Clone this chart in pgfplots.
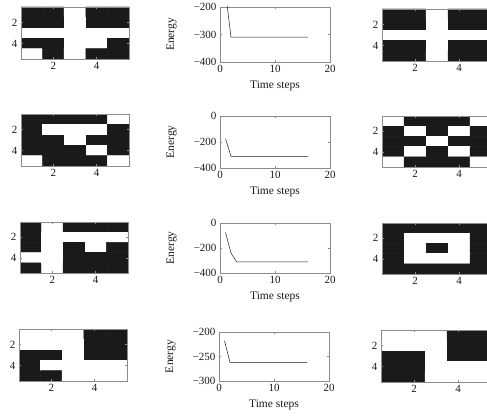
\documentclass[border=0pt]{standalone}
\usepackage{pgfplots}
\pgfplotsset{compat=1.18}
\usepackage{fontspec}
\setmainfont{Liberation Serif}

\definecolor{ink}{HTML}{1A1A1A}
\definecolor{frame}{HTML}{8C8C8C}

\pgfplotsset{
  common/.style={scale only axis, anchor=north west,
    tick align=inside, major tick length=2pt,
    axis line style={frame, line width=0.4pt}, tick style={frame, line width=0.4pt},
    ticklabel style={font=\fontsize{11}{12}\selectfont, text=ink},
    label style={font=\fontsize{11.5}{13}\selectfont, text=ink},
    /pgf/number format/assume math mode=true},
  bwmat/.style={common, width=108pt, height=52pt,
    xmin=0.5, xmax=5.5, ymin=0.5, ymax=5.5, y dir=reverse, enlargelimits=false,
    xtick={2,4}, ytick={2,4}, axis on top,
    colormap={bw}{color=(white) color=(ink)},
    point meta min=0, point meta max=1},
  energy/.style={common, width=110pt, xmin=0, xmax=20, xtick={0,10,20},
    xlabel={Time steps}, ylabel={Energy},
    xlabel style={yshift=-1pt},
    ylabel style={at={(axis description cs:-0.44,0.5)}, anchor=center}},
  eline/.style={ink, line width=0.5pt, mark=none},
  mat/.style={matrix plot*, mesh/cols=5, point meta=explicit}
}

\begin{document}
\begin{tikzpicture}
\useasboundingbox (0,0) rectangle (487pt,-417pt);
\clip (0,0) rectangle (487pt,-417pt);

% ---------- row 1 ----------
\begin{axis}[bwmat, at={(21pt,-7pt)}]
\addplot[mat] table[meta=c] {
x y c
1 1 1
2 1 1
3 1 0
4 1 1
5 1 1
1 2 1
2 2 1
3 2 0
4 2 1
5 2 1
1 3 0
2 3 0
3 3 0
4 3 0
5 3 0
1 4 1
2 4 1
3 4 0
4 4 0
5 4 1
1 5 0
2 5 1
3 5 0
4 5 1
5 5 1
};
\end{axis}
\begin{axis}[energy, at={(220pt,-7pt)}, height=55pt, ymin=-400, ymax=-200,
  ytick={-400,-300,-200}, yticklabels={−400,−300,−200}]
\addplot[eline] coordinates {(1,-145) (2,-310) (3,-310) (4,-310) (5,-310) (6,-310) (7,-310) (8,-310) (9,-310) (10,-310) (11,-310) (12,-310) (13,-310) (14,-310) (15,-310) (16,-310)};
\end{axis}
\begin{axis}[bwmat, at={(382pt,-9pt)}, width=110pt]
\addplot[mat] table[meta=c] {
x y c
1 1 1
2 1 1
3 1 0
4 1 1
5 1 1
1 2 1
2 2 1
3 2 0
4 2 1
5 2 1
1 3 0
2 3 0
3 3 0
4 3 0
5 3 0
1 4 1
2 4 1
3 4 0
4 4 1
5 4 1
1 5 1
2 5 1
3 5 0
4 5 1
5 5 1
};
\end{axis}

% ---------- row 2 ----------
\begin{axis}[bwmat, at={(21pt,-114pt)}]
\addplot[mat] table[meta=c] {
x y c
1 1 1
2 1 1
3 1 1
4 1 1
5 1 0
1 2 1
2 2 0
3 2 0
4 2 0
5 2 1
1 3 1
2 3 1
3 3 0
4 3 1
5 3 1
1 4 1
2 4 1
3 4 1
4 4 0
5 4 1
1 5 0
2 5 1
3 5 1
4 5 1
5 5 0
};
\end{axis}
\begin{axis}[energy, at={(220pt,-116pt)}, height=52pt, ymin=-400, ymax=0,
  ytick={-400,-200,0}, yticklabels={−400,−200,0}]
\addplot[eline] coordinates {(1,-175) (2,-310) (3,-310) (4,-310) (5,-310) (6,-310) (7,-310) (8,-310) (9,-310) (10,-310) (11,-310) (12,-310) (13,-310) (14,-310) (15,-310) (16,-310)};
\end{axis}
\begin{axis}[bwmat, at={(382pt,-116pt)}, width=110pt, height=51pt]
\addplot[mat] table[meta=c] {
x y c
1 1 0
2 1 1
3 1 1
4 1 1
5 1 0
1 2 1
2 2 0
3 2 1
4 2 0
5 2 1
1 3 1
2 3 1
3 3 0
4 3 1
5 3 1
1 4 1
2 4 0
3 4 1
4 4 0
5 4 1
1 5 0
2 5 1
3 5 1
4 5 1
5 5 0
};
\end{axis}

% ---------- row 3 ----------
\begin{axis}[bwmat, at={(20pt,-222pt)}, height=51pt]
\addplot[mat] table[meta=c] {
x y c
1 1 1
2 1 0
3 1 1
4 1 1
5 1 1
1 2 1
2 2 0
3 2 0
4 2 0
5 2 0
1 3 1
2 3 0
3 3 1
4 3 0
5 3 1
1 4 0
2 4 0
3 4 1
4 4 1
5 4 1
1 5 1
2 5 0
3 5 1
4 5 1
5 5 1
};
\end{axis}
\begin{axis}[energy, at={(220pt,-223pt)}, height=50pt, ymin=-400, ymax=0,
  ytick={-400,-200,0}, yticklabels={−400,−200,0}]
\addplot[eline] coordinates {(1,-75) (2,-240) (3,-310) (4,-310) (5,-310) (6,-310) (7,-310) (8,-310) (9,-310) (10,-310) (11,-310) (12,-310) (13,-310) (14,-310) (15,-310) (16,-310)};
\end{axis}
\begin{axis}[bwmat, at={(382pt,-223pt)}, width=110pt, height=51pt]
\addplot[mat] table[meta=c] {
x y c
1 1 1
2 1 1
3 1 1
4 1 1
5 1 1
1 2 1
2 2 0
3 2 0
4 2 0
5 2 1
1 3 1
2 3 0
3 3 1
4 3 0
5 3 1
1 4 1
2 4 0
3 4 0
4 4 0
5 4 1
1 5 1
2 5 1
3 5 1
4 5 1
5 5 1
};
\end{axis}

% ---------- row 4 ----------
\begin{axis}[bwmat, at={(19pt,-329pt)}]
\addplot[mat] table[meta=c] {
x y c
1 1 0
2 1 0
3 1 0
4 1 1
5 1 1
1 2 0
2 2 0
3 2 0
4 2 1
5 2 1
1 3 1
2 3 1
3 3 0
4 3 1
5 3 1
1 4 1
2 4 0
3 4 0
4 4 0
5 4 0
1 5 1
2 5 1
3 5 0
4 5 0
5 5 0
};
\end{axis}
\begin{axis}[energy, at={(219pt,-332pt)}, height=49pt, ymin=-300, ymax=-200,
  ytick={-300,-250,-200}, yticklabels={−300,−250,−200}]
\addplot[eline] coordinates {(1,-218) (2,-262) (3,-262) (4,-262) (5,-262) (6,-262) (7,-262) (8,-262) (9,-262) (10,-262) (11,-262) (12,-262) (13,-262) (14,-262) (15,-262) (16,-262)};
\end{axis}
\begin{axis}[bwmat, at={(381pt,-330pt)}, width=110pt]
\addplot[mat] table[meta=c] {
x y c
1 1 0
2 1 0
3 1 0
4 1 1
5 1 1
1 2 0
2 2 0
3 2 0
4 2 1
5 2 1
1 3 1
2 3 1
3 3 0
4 3 1
5 3 1
1 4 1
2 4 1
3 4 0
4 4 0
5 4 0
1 5 1
2 5 1
3 5 0
4 5 0
5 5 0
};
\end{axis}
\end{tikzpicture}
\end{document}
